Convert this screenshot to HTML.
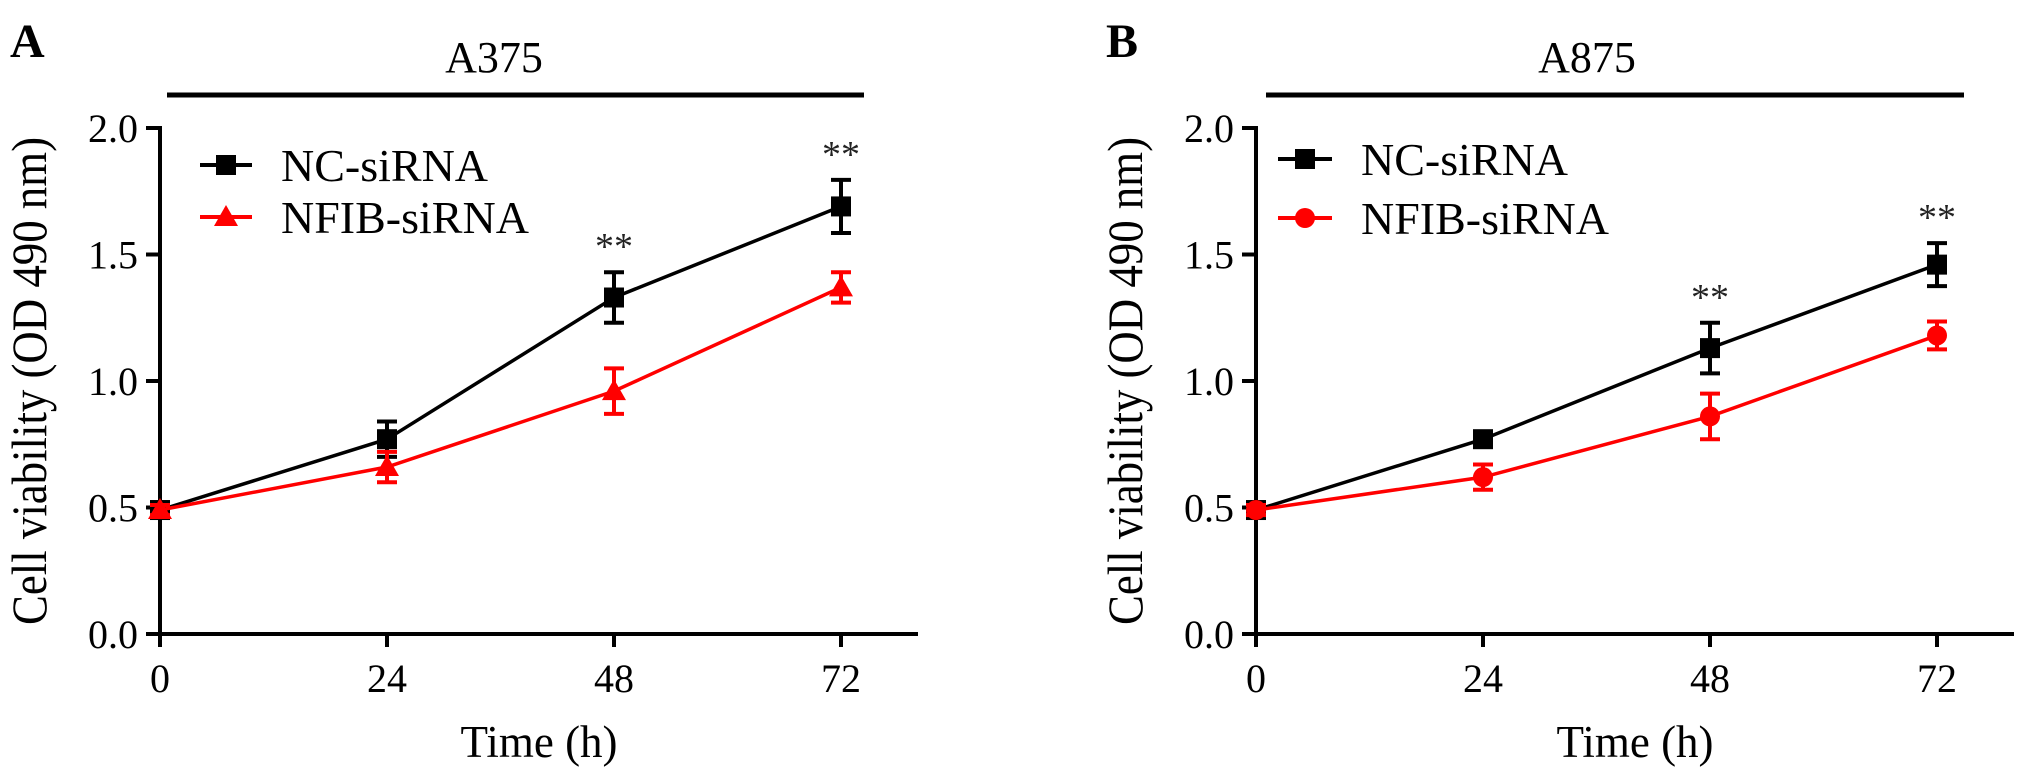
<!DOCTYPE html>
<html><head><meta charset="utf-8">
<style>
html,body{margin:0;padding:0;background:#fff;}
svg{display:block;font-family:"Liberation Serif","Times New Roman",serif;}
</style></head>
<body>
<svg id="fig" width="2031" height="780" viewBox="0 0 2031 780" xmlns="http://www.w3.org/2000/svg"></svg>
<script>
const timepoints = [0, 24, 48, 72];
const xTickLabels = ["0", "24", "48", "72"];
const yTickValues = [0, 0.5, 1.0, 1.5, 2.0];
const yTickLabels = ["0.0", "0.5", "1.0", "1.5", "2.0"];
const a375NcMean = [0.49, 0.77, 1.33, 1.69];
const a375NcErr = [0.02, 0.07, 0.10, 0.105];
const a375NfibMean = [0.49, 0.66, 0.96, 1.37];
const a375NfibErr = [0.02, 0.06, 0.09, 0.06];
const a875NcMean = [0.49, 0.77, 1.13, 1.46];
const a875NcErr = [0.02, 0.03, 0.10, 0.085];
const a875NfibMean = [0.49, 0.62, 0.86, 1.18];
const a875NfibErr = [0.02, 0.05, 0.09, 0.055];
const a375Significant = [false, false, true, true];
const a875Significant = [false, false, true, true];

const NS = "http://www.w3.org/2000/svg";
const svg = document.getElementById("fig");
function mk(tag, attrs, parent) {
  const e = document.createElementNS(NS, tag);
  for (const k in attrs) e.setAttribute(k, attrs[k]);
  (parent || svg).appendChild(e);
  return e;
}

function panel(cfg) {
  const g = mk("g", {});
  
  
  const x0 = cfg.axisX, y0 = 634, yTop = 128, xEnd = cfg.axisX + 758;
  const xs = t => x0 + t * (681 / 72);
  const ys = v => y0 - v * ((y0 - yTop) / 2);

  const letter = mk("text", {x: cfg.letterX, y: 57, "font-size": 48, "font-weight": "bold"}, g);
  letter.textContent = cfg.letter;
  
  
  const tt = mk("text", {x: cfg.titleX, y: 72, "font-size": 44, "text-anchor": "middle"}, g);
  tt.textContent = cfg.title;
  
  
  const bar = mk("line", {x1: cfg.barX1, x2: cfg.barX2, y1: 95, y2: 95, stroke: "#000", "stroke-width": 5}, g);
  
  

  const ya = mk("line", {x1: x0, x2: x0, y1: yTop - 2, y2: y0 + 13, stroke: "#000", "stroke-width": 4}, g);
  
  
  const xa = mk("line", {x1: x0 - 14, x2: xEnd, y1: y0, y2: y0, stroke: "#000", "stroke-width": 4}, g);
  
  
  yTickValues.forEach((v, i) => {
    const tk = mk("line", {x1: x0 - 14, x2: x0, y1: ys(v), y2: ys(v), stroke: "#000", "stroke-width": 4}, g);
    
    
    const lb = mk("text", {x: x0 - 22, y: ys(v) + 14, "font-size": 40, "text-anchor": "end"}, g);
    lb.textContent = yTickLabels[i];
    
    
  });
  timepoints.forEach((t, i) => {
    const tk = mk("line", {x1: xs(t), x2: xs(t), y1: y0, y2: y0 + 13, stroke: "#000", "stroke-width": 4}, g);
    
    
    const lb = mk("text", {x: xs(t), y: 692, "font-size": 40, "text-anchor": "middle"}, g);
    lb.textContent = xTickLabels[i];
    
    
  });
  const xt = mk("text", {x: x0 + 379, y: 757, "font-size": 45, "text-anchor": "middle"}, g);
  xt.textContent = "Time (h)";
  
  
  const yt = mk("text", {x: 0, y: 0, "font-size": 50, "text-anchor": "middle", textLength: 488, lengthAdjust: "spacingAndGlyphs", transform: `translate(${cfg.axisX - 114},381) rotate(-90)`}, g);
  yt.textContent = "Cell viability (OD 490 nm)";
  
  

  function marker(kind, cx, cy, color, parent) {
    let m;
    if (kind === "square") m = mk("rect", {x: cx - 10, y: cy - 10, width: 20, height: 20, fill: color}, parent);
    else if (kind === "triangle") m = mk("polygon", {points: `${cx},${cy - 12} ${cx + 12},${cy + 9} ${cx - 12},${cy + 9}`, fill: color}, parent);
    else m = mk("circle", {cx: cx, cy: cy, r: 10, fill: color}, parent);
    return m;
  }

  function series(mean, err, color, kind, name) {
    const sg = mk("g", {}, g);
    
    
    const pts = timepoints.map((t, i) => `${xs(t)},${ys(mean[i])}`).join(" ");
    const pl = mk("polyline", {points: pts, fill: "none", stroke: color, "stroke-width": 3.5}, sg);
    
    
    timepoints.forEach((t, i) => {
      const cx = xs(t), top = ys(mean[i] + err[i]), bot = ys(mean[i] - err[i]);
      const eb = mk("path", {d: `M${cx},${top}V${bot}M${cx - 10},${top}H${cx + 10}M${cx - 10},${bot}H${cx + 10}`, stroke: color, "stroke-width": 4, fill: "none"}, sg);
      
      
      const m = marker(kind, cx, ys(mean[i]), color, sg);
      
      
    });
  }
  series(cfg.ncMean, cfg.ncErr, "#000", "square", "nc-sirna-series");
  series(cfg.nfMean, cfg.nfErr, "#ff0000", cfg.nfMarker, "nfib-sirna-series");

  timepoints.forEach((t, i) => {
    if (!cfg.sig[i]) return;
    const top = ys(cfg.ncMean[i] + cfg.ncErr[i]);
    const s = mk("text", {x: xs(t), y: top - 32 + 19, "font-size": 38, "text-anchor": "middle", fill: "#222"}, g);
    s.textContent = "**";
    
    
  });

  const lg = mk("g", {}, g);
  
  
  [[cfg.legNcY, "#000", "square", "NC-siRNA"], [cfg.legNfY, "#ff0000", cfg.nfMarker, "NFIB-siRNA"]].forEach(([ly, c, k, label]) => {
    const eg = mk("g", {}, lg);
    
    
    mk("line", {x1: cfg.legX1, x2: cfg.legX2, y1: ly, y2: ly, stroke: c, "stroke-width": 4}, eg);
    marker(k, (cfg.legX1 + cfg.legX2) / 2, ly, c, eg);
    const lt = mk("text", {x: cfg.legTextX, y: ly + 16, "font-size": 46}, eg);
    lt.textContent = label;
  });
}

panel({name: "panel-a375", letter: "A", letterX: 10, title: "A375", titleX: 494, barX1: 167, barX2: 864,
  axisX: 160, ncMean: a375NcMean, ncErr: a375NcErr, nfMean: a375NfibMean, nfErr: a375NfibErr,
  nfMarker: "triangle", sig: a375Significant, legX1: 200, legX2: 252, legTextX: 281, legNcY: 165, legNfY: 217});
panel({name: "panel-a875", letter: "B", letterX: 1106, title: "A875", titleX: 1587, barX1: 1266, barX2: 1964,
  axisX: 1256, ncMean: a875NcMean, ncErr: a875NcErr, nfMean: a875NfibMean, nfErr: a875NfibErr,
  nfMarker: "circle", sig: a875Significant, legX1: 1278, legX2: 1332, legTextX: 1361, legNcY: 159, legNfY: 218});
</script>
</body></html>
